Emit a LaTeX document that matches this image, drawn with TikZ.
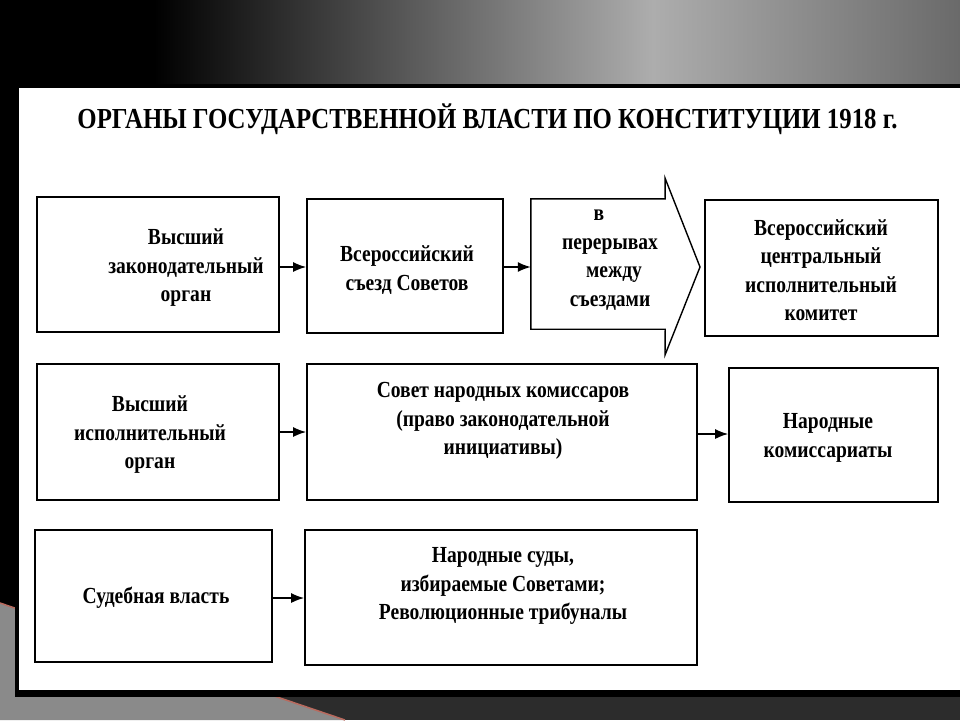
\documentclass[tikz,border=0pt]{standalone}
\usepackage{fontspec}
\setmainfont{Liberation Serif}
\newfontfamily\boxfont{Liberation Serif}[FakeStretch=0.85]
\usetikzlibrary{arrows.meta}
\definecolor{bgA}{HTML}{4A4A4A}
\definecolor{bgB}{HTML}{ADADAD}
\definecolor{bgC}{HTML}{6A6A6A}
\definecolor{stripe}{HTML}{2C2C2C}
\definecolor{lgray}{HTML}{8A8A8A}
\definecolor{redline}{HTML}{B86A5E}
\pgfdeclarehorizontalshading{topband}{100bp}{color(0bp)=(black); color(33bp)=(black); color(44bp)=(bgA); color(59bp)=(bgB); color(75bp)=(bgC); color(100bp)=(bgC)}
\begin{document}
\begin{tikzpicture}[x=1pt,y=-1pt,
  box/.style={draw=black, line width=1.6pt, inner sep=0pt, fill=white},
  lbl/.style={font=\boxfont\fontsize{23}{28.5}\selectfont\bfseries, align=center, inner sep=0pt},
  arr/.style={line width=1.6pt, -{Latex[length=13pt,width=10pt]}},
  shapeline/.style={draw=black, line width=1.4pt, line join=miter}]
\useasboundingbox (0,0) rectangle (960,720);
% background
\fill[black] (0,0) rectangle (960,720);
\shade[shading=topband] (0,0) rectangle (960,84);
\fill[stripe] (0,697) rectangle (960,720);
\fill[lgray] (0,603) -- (345,720) -- (0,720) -- cycle;
\draw[redline, line width=1.5pt] (0,603) -- (345,720);
% panel
\fill[black] (15,84) rectangle (960,697);
\fill[white] (19,88) rectangle (960,690);
% title
\node[font=\bfseries\fontsize{29}{29}\selectfont, anchor=base, inner sep=0pt] (title) at (487.5,128)
  {\resizebox{820pt}{\height}{ОРГАНЫ ГОСУДАРСТВЕННОЙ ВЛАСТИ ПО КОНСТИТУЦИИ 1918 г.}};
% boxes
\node[box, minimum width=242pt, minimum height=135pt] (a) at (158,264.5) {};
\node[box, minimum width=196pt, minimum height=134pt] (b) at (405,266) {};
\node[inner sep=0pt, minimum width=134pt, minimum height=130pt] (cbox) at (598,264) {};
\node[box, minimum width=233pt, minimum height=136pt] (d) at (821.5,268) {};
\node[box, minimum width=242pt, minimum height=136pt] (e) at (158,432) {};
\node[box, minimum width=390pt, minimum height=136pt] (f) at (502,432) {};
\node[box, minimum width=209pt, minimum height=134pt] (g) at (833.5,435) {};
\node[box, minimum width=237pt, minimum height=132pt] (h) at (153.5,596) {};
\node[box, minimum width=392pt, minimum height=135pt] (i) at (501,597.5) {};
% arrow shape
\coordinate (cup) at (665,178);
\coordinate (ctip) at (700,267);
\coordinate (cdn) at (665,355);
\draw[shapeline] (cbox.north west) -- (cbox.north east) -- (cup) -- (ctip) -- (cdn) -- (cbox.south east) -- (cbox.south west) -- cycle;
% labels
\node[lbl] (ta) at (186,268) {Высший\\законодательный\\орган};
\node[lbl] (tb) at (407,270) {Всероссийский\\съезд Советов};
\node[lbl] (tc) at (610,260) {\hspace*{-22pt}в\\перерывах\\\hspace*{8pt}между\\съездами};
\node[lbl] (td) at (821,270) {Всероссийский\\центральный\\исполнительный\\комитет};
\node[lbl] (te) at (150,435) {Высший\\исполнительный\\орган};
\node[lbl] (tf) at (503,421) {Совет народных комиссаров\\(право законодательной\\инициативы)};
\node[lbl] (tg) at (828,438) {Народные\\комиссариаты};
\node[lbl] (th) at (156,598) {Судебная власть};
\node[lbl] (ti) at (503,586) {Народные суды,\\избираемые Советами;\\Революционные трибуналы};
% connectors
\draw[arr] (a.east |- 0,267) -- (b.west |- 0,267);
\draw[arr] (b.east |- 0,267) -- (cbox.west |- 0,267);
\draw[arr] (e.east |- 0,432) -- (f.west |- 0,432);
\draw[arr] (f.east |- 0,434) -- (g.west |- 0,434);
\draw[arr] (h.east |- 0,598) -- (i.west |- 0,598);
\end{tikzpicture}
\end{document}
